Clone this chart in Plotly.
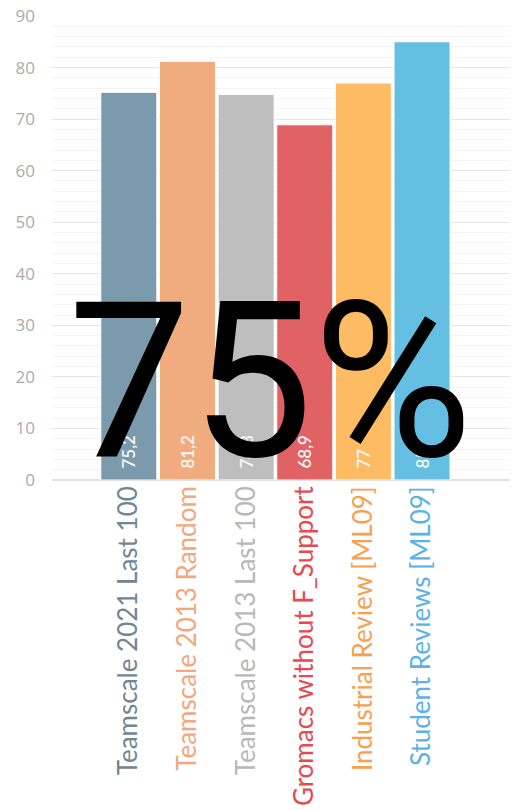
import plotly.graph_objects as go

categories = ["Teamscale 2021 Last 100", "Teamscale 2013 Random", "Teamscale 2013 Last 100",
              "Gromacs without F_Support", "Industrial Review [ML09]", "Student Reviews [ML09]"]
values = [75.2, 81.2, 74.8, 68.9, 77, 85]
value_labels = ["75,2", "81,2", "74,8", "68,9", "77", "85"]
bar_colors = ["#7b9aab", "#f0ab7e", "#bebebe", "#e06264", "#fdbb63", "#64bfe3"]
label_colors = ["#6f8795", "#f3a77c", "#b8b8b8", "#e84850", "#f7a150", "#5ab3e6"]
y_ticks = [0, 10, 20, 30, 40, 50, 60, 70, 80, 90]
overlay = "75%"

pad = "\u00a0\u00a0"

fig = go.Figure()
fig.add_trace(go.Bar(
    x=categories, y=values,
    marker=dict(color=bar_colors, line=dict(color="white", width=1)),
    text=[pad + v for v in value_labels], textposition="inside", insidetextanchor="start",
    textangle=-90, textfont=dict(color="#f6f6f6", size=17, family="Lato", weight=600),
    width=0.955,
))

ticktext = [f'<span style="color:{c}">{t}</span>' for t, c in zip(categories, label_colors)]

fig.update_layout(
    width=512, height=810,
    margin=dict(l=52, r=2, t=16, b=330),
    paper_bgcolor="white", plot_bgcolor="white",
    showlegend=False,
    xaxis=dict(
        range=[-1.31, 6.5], tickmode="array", tickvals=categories, ticktext=ticktext,
        tickangle=-90, tickfont=dict(size=26, family="Lato"), showgrid=False,
        showline=False, ticks="", automargin=False,
    ),
    yaxis=dict(
        range=[0, 90], tickvals=y_ticks, tickfont=dict(size=17, color="#ababab", family="Open Sans"),
        ticklabelstandoff=16,
        gridcolor="#e6e6e6", gridwidth=1, zeroline=True, zerolinecolor="#e2e2e2",
        minor=dict(dtick=2, showgrid=True, gridcolor="#f4f4f4"),
        ticks="", showline=False, automargin=False,
    ),
    annotations=[dict(
        text=overlay, xref="paper", yref="paper", x=0.476, y=0.213,
        showarrow=False, font=dict(size=218, color="black", family="Roboto"),
        xanchor="center", yanchor="middle",
    )],
)

# browser default body margin would shift the figure by 8px
fig.write_html("out.html", config={"displayModeBar": False},
               post_script="document.body.style.margin='0';")
